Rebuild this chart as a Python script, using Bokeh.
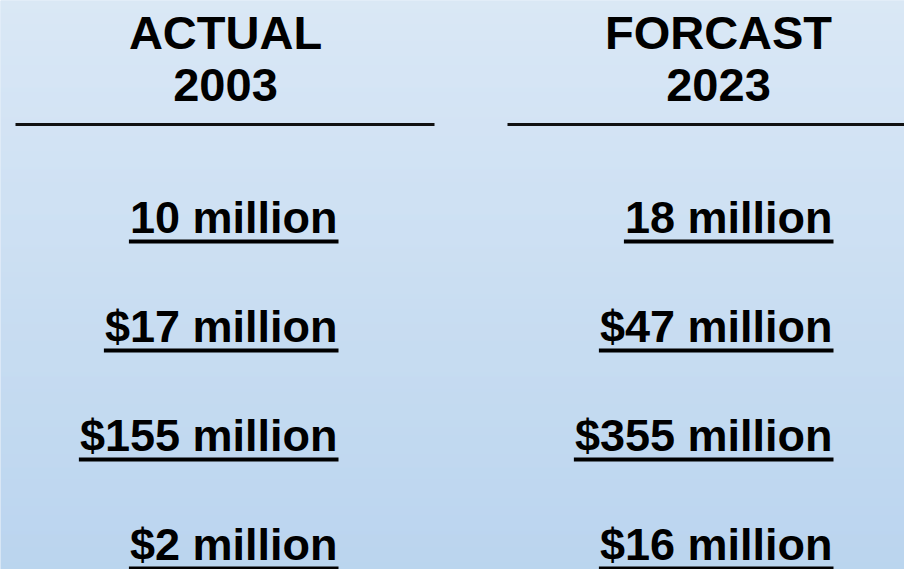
import numpy as np
from bokeh.plotting import figure
from bokeh.models import Range1d, ColumnDataSource
from bokeh.core.properties import value
from bokeh.embed import file_html
from bokeh.resources import INLINE

# ---- data ----
column_titles = ["ACTUAL", "FORCAST"]
column_years = ["2003", "2023"]
actual_2003 = ["10 million", "$17 million", "$155 million", "$2 million"]
forecast_2023 = ["18 million", "$47 million", "$355 million", "$16 million"]

W, H = 904, 569
FONT = "Liberation Sans"
BASE_FIX = 0.37  # svg backend places the "alphabetic" baseline ~0.37em low

# Arial/Liberation Sans Bold advance widths (per 1000 em)
ADV = {c: 556 for c in "0123456789$"}
ADV.update({" ": 278, "m": 889, "i": 278, "l": 278, "o": 611, "n": 611})


def text_width(s, size):
    return sum(ADV.get(c, 600) for c in s) / 1000.0 * size


def Y(y_down):
    # convert a top-down pixel position to the data y (bottom-up)
    return H - y_down


def TY(baseline_down, size):
    return Y(baseline_down - BASE_FIX * size)


p = figure(width=W, height=H, output_backend="svg", toolbar_location=None,
           x_range=Range1d(0, W), y_range=Range1d(0, H), min_border=0)
p.axis.visible = False
p.grid.visible = False
p.outline_line_color = None
p.background_fill_color = "#c9ddf2"
p.border_fill_color = "#c9ddf2"

# vertical gradient background
top = np.array([0xdc, 0xe9, 0xf6], dtype=float)
bot = np.array([0xb8, 0xd3, 0xee], dtype=float)
ys = np.arange(0, H + 1, 1)
t = ys / H
cols = ["#%02x%02x%02x" % tuple(int(round(v)) for v in top + (bot - top) * tt) for tt in t]
p.quad(left=0, right=W, top=[Y(v) for v in ys], bottom=[Y(v + 1.2) for v in ys],
       fill_color=cols, line_color=None)

# headers
HS = 47
hx = [225, 718]
p.text(x=hx, y=[TY(49, HS)] * 2, text=column_titles, text_font=value(FONT), text_font_style="bold",
       text_font_size=f"{HS}px", text_align="center", text_baseline="alphabetic", text_color="black")
p.text(x=hx, y=[TY(102, HS)] * 2, text=column_years, text_font=value(FONT), text_font_style="bold",
       text_font_size=f"{HS}px", text_align="center", text_baseline="alphabetic", text_color="black")

# header rules
p.segment(x0=[15, 507], y0=[Y(124)] * 2, x1=[434, W + 5], y1=[Y(124)] * 2,
          line_color="#111111", line_width=3)

# value rows
VS = 45
for col_right, vals in ((337, actual_2003), (832, forecast_2023)):
    base = [234 + i * 109 for i in range(len(vals))]
    src = ColumnDataSource(dict(x=[col_right] * len(vals), y=[TY(b, VS) for b in base], t=vals))
    p.text(x="x", y="y", text="t", source=src, text_font=value(FONT), text_font_style="bold",
           text_font_size=f"{VS}px", text_align="right", text_baseline="alphabetic",
           text_color="black")
    widths = [text_width(v, VS) for v in vals]
    p.segment(x0=[col_right - w - 1 for w in widths], y0=[Y(b + 7) for b in base],
              x1=[col_right + 1] * len(vals), y1=[Y(b + 7) for b in base],
              line_color="black", line_width=4)

html = file_html(p, INLINE)
html = html.replace("<head>", "<head><style>html,body{margin:0;padding:0;overflow:hidden;}</style>", 1)
open("out.html", "w").write(html)
